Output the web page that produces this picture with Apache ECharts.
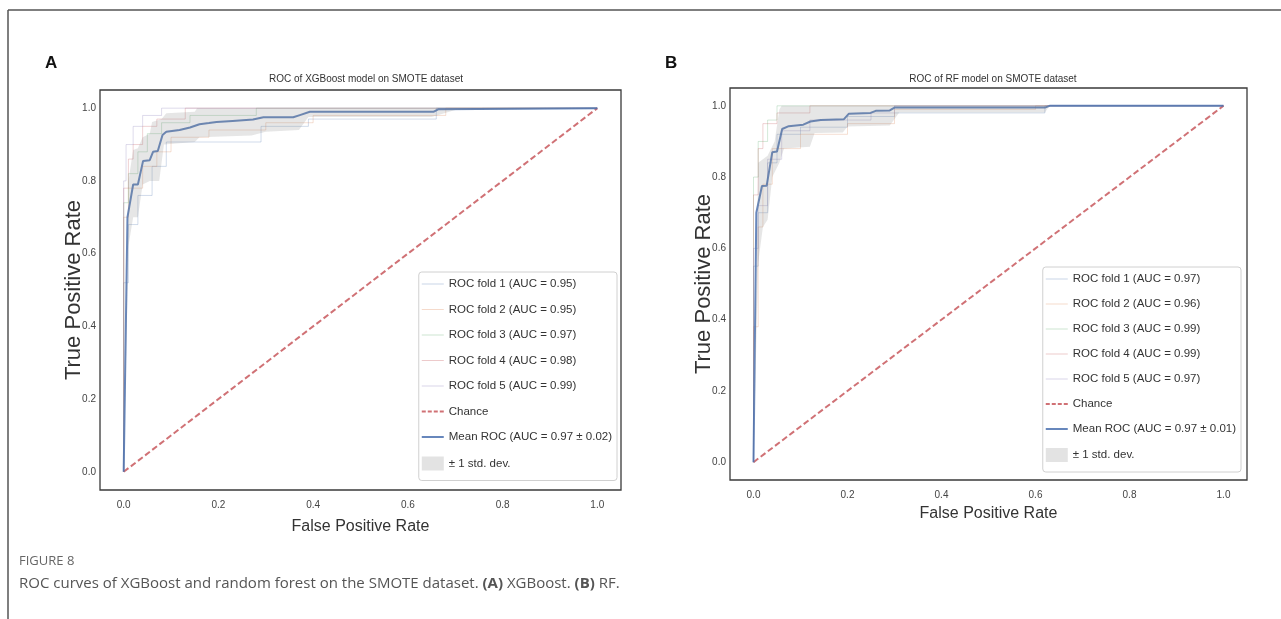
<!DOCTYPE html>
<html>
<head>
<meta charset="utf-8">
<script src="https://cdn.jsdelivr.net/npm/echarts@6/dist/echarts.min.js"></script>
<style>
  html, body { margin: 0; padding: 0; background: #fff; }
  #chart { width: 1281px; height: 619px; }
</style>
</head>
<body>
<div id="chart"></div>
<script>
// tick labels, both axes, both panels
const ticks = [0, 0.2, 0.4, 0.6, 0.8, 1.0]

// panel A - XGBoost, [fpr, tpr] points
const foldNamesA = ['ROC fold 1 (AUC = 0.95)', 'ROC fold 2 (AUC = 0.95)', 'ROC fold 3 (AUC = 0.97)', 'ROC fold 4 (AUC = 0.98)', 'ROC fold 5 (AUC = 0.99)']
const foldA1 = [[0, 0], [0, 0.52], [0.01, 0.52], [0.01, 0.68], [0.03, 0.68], [0.03, 0.76], [0.06, 0.76], [0.06, 0.84], [0.09, 0.84], [0.09, 0.907], [0.29, 0.907], [0.29, 0.95], [0.39, 0.95], [0.39, 0.97], [0.66, 0.97], [0.66, 1], [1, 1]]
const foldA2 = [[0, 0], [0, 0.7], [0.01, 0.7], [0.01, 0.78], [0.04, 0.78], [0.04, 0.84], [0.07, 0.84], [0.07, 0.88], [0.1, 0.88], [0.1, 0.92], [0.18, 0.92], [0.18, 0.94], [0.3, 0.94], [0.3, 0.96], [0.4, 0.96], [0.4, 0.98], [0.68, 0.98], [0.68, 1], [1, 1]]
const foldA3 = [[0, 0], [0, 0.74], [0.01, 0.74], [0.01, 0.82], [0.03, 0.82], [0.03, 0.88], [0.05, 0.88], [0.05, 0.93], [0.08, 0.93], [0.08, 0.96], [0.14, 0.96], [0.14, 0.98], [0.28, 0.98], [0.28, 1], [1, 1]]
const foldA4 = [[0, 0], [0, 0.78], [0.01, 0.78], [0.01, 0.86], [0.02, 0.86], [0.02, 0.9], [0.04, 0.9], [0.04, 0.95], [0.07, 0.95], [0.07, 0.97], [0.13, 0.97], [0.13, 1], [1, 1]]
const foldA5 = [[0, 0], [0, 0.8], [0.005, 0.8], [0.005, 0.9], [0.02, 0.9], [0.02, 0.95], [0.04, 0.95], [0.04, 0.98], [0.08, 0.98], [0.08, 1], [1, 1]]
const meanA = [[0, 0], [0.008, 0.70], [0.012, 0.73], [0.02, 0.79], [0.03, 0.79], [0.041, 0.855], [0.055, 0.857], [0.062, 0.88], [0.072, 0.882], [0.082, 0.926], [0.09, 0.935], [0.118, 0.94], [0.14, 0.947], [0.16, 0.956], [0.18, 0.959], [0.196, 0.962], [0.23, 0.965], [0.273, 0.969], [0.295, 0.975], [0.358, 0.975], [0.372, 0.981], [0.393, 0.99], [0.654, 0.99], [0.664, 0.997], [1, 1]]
const upperA = [[0, 0], [0.01, 0.80], [0.02, 0.885], [0.03, 0.89], [0.04, 0.92], [0.055, 0.93], [0.06, 0.962], [0.08, 0.97], [0.09, 0.986], [0.15, 0.99], [0.155, 1], [1, 1]]
const lowerA = [[0, 0], [0.01, 0.62], [0.02, 0.70], [0.03, 0.70], [0.04, 0.79], [0.055, 0.80], [0.075, 0.80], [0.085, 0.90], [0.15, 0.907], [0.16, 0.92], [0.27, 0.925], [0.30, 0.935], [0.37, 0.94], [0.39, 0.976], [0.65, 0.976], [0.70, 0.995], [1, 1]]
const meanNameA = 'Mean ROC (AUC = 0.97 ± 0.02)'

// panel B - random forest
const foldNamesB = ['ROC fold 1 (AUC = 0.97)', 'ROC fold 2 (AUC = 0.96)', 'ROC fold 3 (AUC = 0.99)', 'ROC fold 4 (AUC = 0.99)', 'ROC fold 5 (AUC = 0.97)']
const foldB1 = [[0, 0], [0, 0.55], [0.01, 0.55], [0.01, 0.7], [0.03, 0.7], [0.03, 0.84], [0.05, 0.84], [0.05, 0.92], [0.1, 0.92], [0.1, 0.94], [0.2, 0.94], [0.2, 0.97], [0.3, 0.97], [0.3, 0.98], [0.62, 0.98], [0.62, 1], [1, 1]]
const foldB2 = [[0, 0], [0, 0.38], [0.01, 0.38], [0.01, 0.66], [0.02, 0.66], [0.02, 0.78], [0.04, 0.78], [0.04, 0.88], [0.1, 0.88], [0.1, 0.92], [0.2, 0.92], [0.2, 0.95], [0.3, 0.95], [0.3, 0.99], [0.6, 0.99], [0.6, 1], [1, 1]]
const foldB3 = [[0, 0], [0, 0.8], [0.01, 0.8], [0.01, 0.9], [0.03, 0.9], [0.03, 0.96], [0.05, 0.96], [0.05, 1], [1, 1]]
const foldB4 = [[0, 0], [0, 0.75], [0.01, 0.75], [0.01, 0.88], [0.02, 0.88], [0.02, 0.95], [0.05, 0.95], [0.05, 0.98], [0.12, 0.98], [0.12, 1], [1, 1]]
const foldB5 = [[0, 0], [0, 0.6], [0.01, 0.6], [0.01, 0.72], [0.03, 0.72], [0.03, 0.85], [0.06, 0.85], [0.06, 0.93], [0.12, 0.93], [0.12, 0.96], [0.25, 0.96], [0.25, 0.98], [0.3, 0.98], [0.3, 1], [1, 1]]
const meanB = [[0, 0], [0.006, 0.70], [0.018, 0.775], [0.028, 0.776], [0.04, 0.87], [0.05, 0.872], [0.061, 0.935], [0.075, 0.943], [0.106, 0.947], [0.121, 0.956], [0.143, 0.96], [0.192, 0.962], [0.203, 0.978], [0.249, 0.98], [0.26, 0.986], [0.29, 0.987], [0.30, 0.995], [0.62, 0.995], [0.63, 1], [1, 1]]
const upperB = [[0, 0], [0.01, 0.84], [0.03, 0.86], [0.045, 0.9], [0.055, 0.99], [0.06, 1], [1, 1]]
const lowerB = [[0, 0], [0.01, 0.56], [0.02, 0.66], [0.03, 0.68], [0.04, 0.80], [0.055, 0.84], [0.065, 0.88], [0.12, 0.885], [0.13, 0.924], [0.19, 0.925], [0.2, 0.942], [0.29, 0.945], [0.31, 0.981], [0.62, 0.981], [0.63, 1], [1, 1]]
const meanNameB = 'Mean ROC (AUC = 0.97 ± 0.01)'

const chanceLine = [[0, 0], [1, 1]]

const foldColors = ['#4C72B0', '#DD8452', '#55A868', '#C44E52', '#8172B3']
const sans = "'Liberation Sans', Arial, sans-serif"
const lineIcon = 'path://M0,0h22v1h-22z'
const thickIcon = 'path://M0,0h22v2h-22z'
const dashIcon = 'path://M0,0h4v2h-4zM6,0h4v2h-4zM12,0h4v2h-4zM18,0h4v2h-4z'

function axis(gridIndex, name, gap, isY) {
  return {
    type: 'value',
    gridIndex: gridIndex,
    min: -0.05,
    max: 1.05,
    axisLine: { show: false },
    axisTick: { show: false },
    splitLine: { show: false },
    axisLabel: {
      customValues: ticks,
      formatter: v => v.toFixed(1),
      fontFamily: sans,
      fontSize: 10,
      color: '#444',
      margin: isY ? 4 : 10
    },
    name: name,
    nameLocation: 'middle',
    nameGap: gap,
    nameMoveOverlap: false,
    nameTextStyle: {
      fontFamily: sans,
      fontSize: isY ? 22 : 16,
      color: '#333'
    }
  }
}

function bandRender(upper, lower) {
  return function (params, api) {
    let pts = upper.map(p => api.coord(p))
    for (let i = lower.length - 1; i >= 0; i--) {
      pts.push(api.coord(lower[i]))
    }
    return {
      type: 'polygon',
      shape: { points: pts },
      style: { fill: 'rgba(128,128,128,0.2)' }
    }
  }
}

function panelSeries(idx, foldNames, folds, mean, meanName, upper, lower) {
  let list = []
  folds.forEach((f, i) => {
    list.push({
      name: foldNames[i],
      type: 'line',
      xAxisIndex: idx,
      yAxisIndex: idx,
      data: f,
      symbol: 'none',
      silent: true,
      lineStyle: { color: foldColors[i], width: 1, opacity: 0.25 },
      itemStyle: { color: foldColors[i], opacity: 0.3 },
      z: 2
    })
  })
  list.push({
    name: 'Chance',
    type: 'line',
    xAxisIndex: idx,
    yAxisIndex: idx,
    data: chanceLine,
    symbol: 'none',
    silent: true,
    lineStyle: { color: '#C44E52', width: 2, opacity: 0.8, type: [6, 3] },
    itemStyle: { color: '#C44E52', opacity: 0.8 },
    z: 3
  })
  list.push({
    name: meanName,
    type: 'line',
    xAxisIndex: idx,
    yAxisIndex: idx,
    data: mean,
    symbol: 'none',
    silent: true,
    lineStyle: { color: '#4C72B0', width: 2, opacity: 0.85 },
    itemStyle: { color: '#4C72B0', opacity: 0.85 },
    z: 4
  })
  list.push({
    name: '± 1 std. dev.',
    type: 'custom',
    xAxisIndex: idx,
    yAxisIndex: idx,
    data: [[0, 0]],
    silent: true,
    itemStyle: { color: '#e3e3e3' },
    renderItem: bandRender(upper, lower),
    z: 5
  })
  return list
}

function legendFor(foldNames, meanName, right, top, gap) {
  let items = foldNames.map(n => ({ name: n, icon: lineIcon }))
  items.push({ name: 'Chance', icon: dashIcon })
  items.push({ name: meanName, icon: thickIcon })
  items.push({ name: '± 1 std. dev.', icon: 'rect' })
  return {
    orient: 'vertical',
    right: right,
    top: top,
    itemWidth: 22,
    itemHeight: 14,
    itemGap: gap,
    padding: [6, 5, 10, 3],
    borderColor: '#d0d0d0',
    borderWidth: 1,
    borderRadius: 3,
    backgroundColor: '#fff',
    selectedMode: false,
    textStyle: { fontFamily: sans, fontSize: 11.5, color: '#333' },
    data: items
  }
}

const chart = echarts.init(document.getElementById('chart'), null, { renderer: 'canvas' })

const option = {
  animation: false,
  backgroundColor: '#fff',
  title: [
    { text: 'A', left: 40, top: 50, textStyle: { fontFamily: sans, fontSize: 17, fontWeight: 'bold', color: '#111' } },
    { text: 'B', left: 660, top: 50, textStyle: { fontFamily: sans, fontSize: 17, fontWeight: 'bold', color: '#111' } },
    { text: 'ROC of XGBoost model on SMOTE dataset', left: 361, top: 69, textAlign: 'center', textStyle: { fontFamily: sans, fontSize: 10, fontWeight: 'normal', color: '#333' } },
    { text: 'ROC of RF model on SMOTE dataset', left: 988, top: 69, textAlign: 'center', textStyle: { fontFamily: sans, fontSize: 10, fontWeight: 'normal', color: '#333' } },
    { text: 'FIGURE 8', left: 14, top: 550, textStyle: { fontFamily: "'Open Sans', sans-serif", fontSize: 13, fontWeight: 'normal', color: '#666' } },
    {
      text: 'ROC curves of XGBoost and random forest on the SMOTE dataset. {b|(A)} XGBoost. {b|(B)} RF.',
      left: 14,
      top: 571,
      textStyle: {
        fontFamily: "'Open Sans', sans-serif", fontSize: 15, fontWeight: 'normal', color: '#555',
        rich: { b: { fontFamily: "'Open Sans', sans-serif", fontSize: 15, fontWeight: 'bold', color: '#555' } }
      }
    }
  ],
  grid: [
    { left: 100, top: 90, width: 521, height: 400, show: true, borderColor: '#3a3a3a', borderWidth: 1.3 },
    { left: 730, top: 88, width: 517, height: 392, show: true, borderColor: '#3a3a3a', borderWidth: 1.3 }
  ],
  xAxis: [
    axis(0, 'False Positive Rate', 29, false),
    axis(1, 'False Positive Rate', 26, false)
  ],
  yAxis: [
    axis(0, 'True Positive Rate', 15, true),
    axis(1, 'True Positive Rate', 15, true)
  ],
  legend: [
    legendFor(foldNamesA, meanNameA, 1281 - 617, 272, 13.5),
    legendFor(foldNamesB, meanNameB, 1281 - 1241, 267, 13)
  ],
  graphic: [
    { type: 'line', shape: { x1: 8, y1: 10, x2: 1281, y2: 10 }, style: { stroke: '#555', lineWidth: 1.5 } },
    { type: 'line', shape: { x1: 8, y1: 10, x2: 8, y2: 619 }, style: { stroke: '#555', lineWidth: 1.5 } }
  ],
  series: panelSeries(0, foldNamesA, [foldA1, foldA2, foldA3, foldA4, foldA5], meanA, meanNameA, upperA, lowerA)
    .concat(panelSeries(1, foldNamesB, [foldB1, foldB2, foldB3, foldB4, foldB5], meanB, meanNameB, upperB, lowerB))
}

chart.setOption(option)
</script>
</body>
</html>
